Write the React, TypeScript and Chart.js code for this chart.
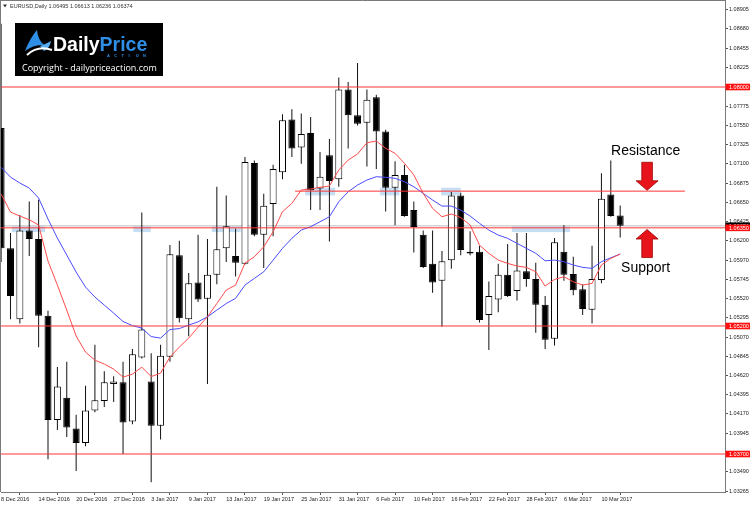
import React, { useEffect, useRef } from "react";
import { Chart, registerables } from "chart.js";

Chart.register(...registerables);

const TITLE = "EURUSD,Daily 1.06495 1.06613 1.06236 1.06374";

const OPEN = [
  1.0752, 1.0611, 1.0528, 1.0632, 1.0622, 1.0532, 1.041, 1.0436, 1.04, 1.0383,
  1.0421, 1.0432, 1.0452, 1.0454, 1.0408, 1.0483, 1.0455, 1.0403, 1.0484, 1.0603,
  1.0528, 1.0571, 1.0552, 1.058, 1.0611, 1.0602, 1.0593, 1.0711, 1.0627, 1.0663,
  1.07, 1.0762, 1.0729, 1.0746, 1.0681, 1.072, 1.0692, 1.0797, 1.0767, 1.0758,
  1.0788, 1.0748, 1.0682, 1.0697, 1.0656, 1.0627, 1.0593, 1.0573, 1.0597, 1.0673,
  1.0605, 1.0607, 1.0533, 1.0551, 1.058, 1.0561, 1.0584, 1.0575, 1.0545, 1.0505,
  1.0607, 1.0581, 1.0563, 1.0539, 1.0574, 1.0674, 1.06495,
];
const HIGH = [
  1.0874, 1.0629, 1.065, 1.0666, 1.0668, 1.0538, 1.0472, 1.0478, 1.0416, 1.045,
  1.0498, 1.0467, 1.0461, 1.0478, 1.0493, 1.0653, 1.0488, 1.0498, 1.0615, 1.062,
  1.0582, 1.0627, 1.0622, 1.0683, 1.0673, 1.0634, 1.0718, 1.0714, 1.0675, 1.0709,
  1.0768, 1.0774, 1.0769, 1.0765, 1.0724, 1.0739, 1.0811, 1.0806, 1.0828, 1.0797,
  1.0791, 1.075, 1.0713, 1.0709, 1.0666, 1.0632, 1.0632, 1.0608, 1.0677, 1.0676,
  1.0631, 1.0614, 1.0572, 1.0593, 1.0616, 1.0629, 1.0629, 1.0594, 1.0555, 1.0623,
  1.0638, 1.0601, 1.0569, 1.0614, 1.0699, 1.0714, 1.06613,
];
const LOW = [
  1.0595, 1.0528, 1.0523, 1.0602, 1.0495, 1.0364, 1.0398, 1.039, 1.035, 1.0379,
  1.0419, 1.0425, 1.0431, 1.037, 1.0405, 1.0482, 1.0337, 1.0387, 1.0478, 1.0524,
  1.0508, 1.0548, 1.0452, 1.0569, 1.0595, 1.0578, 1.0592, 1.0625, 1.0588, 1.0625,
  1.0692, 1.0718, 1.071, 1.0656, 1.0656, 1.0619, 1.0683, 1.0728, 1.0755, 1.0707,
  1.0704, 1.0654, 1.0638, 1.0648, 1.0606, 1.0588, 1.0559, 1.0519, 1.0587, 1.0603,
  1.0603, 1.0524, 1.0492, 1.0536, 1.0554, 1.055, 1.0566, 1.0512, 1.0493, 1.0497,
  1.0573, 1.0556, 1.0533, 1.0523, 1.057, 1.0648, 1.06236,
];
const CLOSE = [
  1.0611, 1.0555, 1.0632, 1.0622, 1.0532, 1.041, 1.0449, 1.0401, 1.0383, 1.0421,
  1.0433, 1.0454, 1.0455, 1.0407, 1.0487, 1.0516, 1.0403, 1.0485, 1.0604, 1.0529,
  1.057, 1.0551, 1.058, 1.061, 1.0637, 1.0594, 1.0712, 1.0627, 1.0661, 1.0704,
  1.0761, 1.0728, 1.0745, 1.0679, 1.0695, 1.069, 1.0797, 1.0767, 1.0757, 1.0785,
  1.0748, 1.0682, 1.0697, 1.0649, 1.0636, 1.0589, 1.0571, 1.0596, 1.0673, 1.0609,
  1.0607, 1.0527, 1.0555, 1.058, 1.0555, 1.0585, 1.0575, 1.0545, 1.0504, 1.0618,
  1.058, 1.0562, 1.054, 1.0575, 1.0669, 1.0649, 1.06374,
];

const MA_FAST = [
  1.06746, 1.06535, 1.06488, 1.06445, 1.06383, 1.05961, 1.05679, 1.05386, 1.05082, 1.04894,
  1.048, 1.04754, 1.04695, 1.04601, 1.04636, 1.04718, 1.04607, 1.04648, 1.04836, 1.04953,
  1.05058, 1.05187, 1.05308, 1.05463, 1.05621, 1.05679, 1.05937, 1.06011, 1.06128, 1.06304,
  1.06539, 1.06637, 1.06793, 1.06805, 1.06824, 1.0684, 1.07027, 1.07144, 1.07215, 1.07347,
  1.07367, 1.07282, 1.07223, 1.07106, 1.06969, 1.06754, 1.06578, 1.0648, 1.06512, 1.06471,
  1.06383, 1.06148, 1.06051, 1.05972, 1.05934, 1.05902, 1.05887, 1.05835, 1.05668, 1.05746,
  1.05777, 1.05718, 1.05679, 1.05699, 1.05914, 1.05992, 1.06043,
];
const MA_SLOW = [
  1.07059, 1.06945, 1.06875, 1.06816, 1.06699, 1.06453, 1.0623, 1.06031, 1.05832, 1.05656,
  1.05539, 1.05445, 1.05351, 1.05252, 1.05205, 1.05175, 1.05076, 1.05058, 1.05158, 1.0517,
  1.05211, 1.05249, 1.05308, 1.05386, 1.05463, 1.05524, 1.05679, 1.05758, 1.05835, 1.05972,
  1.0611, 1.06227, 1.06324, 1.06363, 1.06421, 1.0648, 1.06656, 1.06773, 1.06851, 1.0691,
  1.06949, 1.06942, 1.0693, 1.0689, 1.06832, 1.06754, 1.06676, 1.06605, 1.06605, 1.06558,
  1.06488, 1.06403, 1.06324, 1.06265, 1.06227, 1.06168, 1.0611, 1.06051, 1.05964, 1.05972,
  1.05953, 1.05914, 1.05887, 1.05875, 1.05953, 1.05999, 1.06043,
];

const LEVELS = [1.08, 1.0635, 1.052, 1.037];
const LEVEL_LABELS = ["1.08000", "1.06350", "1.05200", "1.03700"];
const RESISTANCE_LEVEL = 1.0678;
const RESISTANCE_FROM = 31.35;
const RESISTANCE_TO = 72.9;
const BID = 1.06374;
const BID_LABEL = "1.06374";

const Y_TICKS = [
  1.03265, 1.0349, 1.03945, 1.0417, 1.04395, 1.0462, 1.04845, 1.0507, 1.05295, 1.0552,
  1.05745, 1.0597, 1.062, 1.06425, 1.0665, 1.06875, 1.071, 1.07325, 1.0755, 1.07775,
  1.08, 1.08225, 1.08455, 1.0868, 1.08905,
];
const DATE_TICKS = [0, 4, 8, 12, 16, 20, 24, 28, 32, 36, 40, 44, 48, 52, 56, 60, 64];
const DATE_LABELS = [
  "8 Dec 2016", "14 Dec 2016", "20 Dec 2016", "27 Dec 2016", "3 Jan 2017", "9 Jan 2017",
  "13 Jan 2017", "19 Jan 2017", "25 Jan 2017", "31 Jan 2017", "6 Feb 2017", "10 Feb 2017",
  "16 Feb 2017", "22 Feb 2017", "28 Feb 2017", "6 Mar 2017", "10 Mar 2017",
];

const HL_FROM = [1.14, 14.1, 22.46, 32.41, 40.4, 46.91, 54.45];
const HL_TO = [4.69, 15.96, 25.55, 35.61, 42.46, 49.0, 60.66];
const HL_LOW = [1.063, 1.063, 1.063, 1.0673, 1.0673, 1.0673, 1.063];
const HL_HIGH = [1.06383, 1.06383, 1.06383, 1.0682, 1.0682, 1.0682, 1.06383];

const X_MIN = -0.0107;
const X_MAX = 77.175;
const Y_MIN = 1.03255;
const Y_MAX = 1.08996;

const ANNOT_RES_TEXT = { x: 65.03, y: 1.0725, text: "Resistance" };
const ANNOT_SUP_TEXT = { x: 66.1, y: 1.0588, text: "Support" };
const ARROW_DOWN = { x: 68.87, y: 1.0679 };
const ARROW_UP = { x: 68.87, y: 1.0633 };

const FONT = '"Liberation Sans", Arial, sans-serif';

function drawArrow(ctx: CanvasRenderingContext2D, cx: number, tipY: number, dir: number) {
  const len = 28, head = 9.5, hw = 11, sw = 5.3;
  ctx.save();
  ctx.beginPath();
  ctx.moveTo(cx - sw, tipY - dir * len);
  ctx.lineTo(cx + sw, tipY - dir * len);
  ctx.lineTo(cx + sw, tipY - dir * head);
  ctx.lineTo(cx + hw, tipY - dir * head);
  ctx.lineTo(cx, tipY);
  ctx.lineTo(cx - hw, tipY - dir * head);
  ctx.lineTo(cx - sw, tipY - dir * head);
  ctx.closePath();
  ctx.fillStyle = "#E8141B";
  ctx.fill();
  ctx.strokeStyle = "#A00000";
  ctx.lineWidth = 0.8;
  ctx.stroke();
  ctx.restore();
}

function drawLogo(ctx: CanvasRenderingContext2D) {
  ctx.save();
  ctx.fillStyle = "#000";
  ctx.fillRect(15, 23, 148, 53);
  // icon
  ctx.fillStyle = "#2F8FE6";
  ctx.beginPath();
  ctx.moveTo(25, 51);
  ctx.quadraticCurveTo(30, 38, 37, 30);
  ctx.quadraticCurveTo(38, 40, 44, 45);
  ctx.quadraticCurveTo(34, 44, 25, 51);
  ctx.closePath();
  ctx.fill();
  ctx.fillStyle = "#5AAEF0";
  ctx.beginPath();
  ctx.moveTo(40, 46);
  ctx.quadraticCurveTo(46, 44, 51, 41);
  ctx.quadraticCurveTo(50, 48, 44, 51);
  ctx.closePath();
  ctx.fill();
  ctx.strokeStyle = "#fff";
  ctx.lineWidth = 2;
  ctx.beginPath();
  ctx.moveTo(27, 55);
  ctx.quadraticCurveTo(38, 45, 52, 50);
  ctx.stroke();
  // wordmark
  ctx.textBaseline = "alphabetic";
  ctx.textAlign = "left";
  ctx.font = `bold 19.5px ${FONT}`;
  ctx.fillStyle = "#fff";
  ctx.fillText("Daily", 53, 51);
  const w = ctx.measureText("Daily").width;
  ctx.fillStyle = "#2F8FE6";
  ctx.fillText("Price", 53 + w, 51);
  ctx.font = `bold 4px ${FONT}`;
  const letters = "ACTION";
  for (let i = 0; i < letters.length; i++) {
    ctx.fillText(letters[i], 107 + i * 7.2, 56.5);
  }
  // copyright
  let size = 11;
  const txt = "Copyright - dailypriceaction.com";
  ctx.font = `${size}px "Open Sans", ${FONT}`;
  while (ctx.measureText(txt).width > 135 && size > 6) {
    size -= 0.25;
    ctx.font = `${size}px "Open Sans", ${FONT}`;
  }
  ctx.fillStyle = "#fff";
  ctx.textBaseline = "middle";
  ctx.fillText(txt, 22, 68.5);
  ctx.restore();
}

const decorPlugin = {
  id: "decor",
  beforeDatasetsDraw(chart: any) {
    const ctx = chart.ctx as CanvasRenderingContext2D;
    const xs = chart.scales.x, ys = chart.scales.y;
    ctx.save();
    ctx.fillStyle = "rgba(160, 200, 235, 0.6)";
    for (let i = 0; i < HL_FROM.length; i++) {
      const x0 = xs.getPixelForValue(HL_FROM[i]);
      const x1 = xs.getPixelForValue(HL_TO[i]);
      const y0 = ys.getPixelForValue(HL_HIGH[i]);
      const y1 = ys.getPixelForValue(HL_LOW[i]);
      ctx.fillRect(x0, y0, x1 - x0, y1 - y0);
    }
    ctx.restore();
  },
  afterDatasetsDraw(chart: any) {
    const ctx = chart.ctx as CanvasRenderingContext2D;
    const xs = chart.scales.x, ys = chart.scales.y;
    ctx.save();
    ctx.fillStyle = "#000";
    ctx.font = `14px ${FONT}`;
    ctx.textBaseline = "middle";
    ctx.textAlign = "left";
    ctx.fillText(ANNOT_RES_TEXT.text, xs.getPixelForValue(ANNOT_RES_TEXT.x), ys.getPixelForValue(ANNOT_RES_TEXT.y));
    ctx.fillText(ANNOT_SUP_TEXT.text, xs.getPixelForValue(ANNOT_SUP_TEXT.x), ys.getPixelForValue(ANNOT_SUP_TEXT.y));
    ctx.restore();
    drawArrow(ctx, xs.getPixelForValue(ARROW_DOWN.x), ys.getPixelForValue(ARROW_DOWN.y), 1);
    drawArrow(ctx, xs.getPixelForValue(ARROW_UP.x), ys.getPixelForValue(ARROW_UP.y), -1);
  },
  afterDraw(chart: any) {
    const ctx = chart.ctx as CanvasRenderingContext2D;
    const ys = chart.scales.y;
    const area = chart.chartArea;
    ctx.save();
    // frame
    ctx.strokeStyle = "#7a7a7a";
    ctx.lineWidth = 1;
    ctx.beginPath();
    ctx.moveTo(0.5, 0);
    ctx.lineTo(0.5, area.bottom);
    ctx.moveTo(0, 0.5);
    ctx.lineTo(area.right, 0.5);
    ctx.moveTo(area.right + 0.5, 0);
    ctx.lineTo(area.right + 0.5, area.top);
    ctx.stroke();
    // title
    ctx.fillStyle = "#333";
    ctx.beginPath();
    ctx.moveTo(3, 4.5);
    ctx.lineTo(7, 4.5);
    ctx.lineTo(5, 7.5);
    ctx.closePath();
    ctx.fill();
    ctx.font = `5.5px ${FONT}`;
    ctx.textBaseline = "middle";
    ctx.textAlign = "left";
    ctx.fillText(TITLE, 10, 6.3);
    drawLogo(ctx);
    // axis price boxes
    const box = (v: number, bg: string, label: string) => {
      const y = ys.getPixelForValue(v);
      ctx.fillStyle = bg;
      ctx.fillRect(area.right + 0.5, y - 3.3, 750 - area.right, 6.6);
      ctx.fillStyle = "#fff";
      ctx.font = `5.5px ${FONT}`;
      ctx.textBaseline = "middle";
      ctx.fillText(label, area.right + 4, y + 0.3);
    };
    box(BID, "#000", BID_LABEL);
    for (let i = 0; i < LEVELS.length; i++) box(LEVELS[i], "#FF1010", LEVEL_LABELS[i]);
    ctx.restore();
  },
};

export default function App() {
  const ref = useRef<HTMLCanvasElement | null>(null);
  useEffect(() => {
    const canvas = ref.current;
    if (!canvas) return;
    const idx = OPEN.map((_, i) => i);
    const wicks = idx.map((i) => ({ x: i, y: [LOW[i], HIGH[i]] }));
    const bodies = idx.map((i) => ({ x: i, y: [OPEN[i], CLOSE[i]] }));
    const bodyColors = idx.map((i) => (CLOSE[i] >= OPEN[i] ? "#ffffff" : "#000000"));
    const fast = idx.map((i) => ({ x: i, y: MA_FAST[i] }));
    const slow = idx.map((i) => ({ x: i, y: MA_SLOW[i] }));
    const levelSets = LEVELS.map((lv, k) => ({
      type: "line" as const,
      label: "level" + k,
      data: [
        { x: X_MIN, y: lv },
        { x: X_MAX, y: lv },
      ],
      borderColor: "#FF3535",
      borderWidth: 1,
      pointRadius: 0,
      order: 0,
    }));
    const chart = new Chart(canvas, {
      type: "bar",
      data: {
        datasets: [
          {
            type: "line",
            label: "bid",
            data: [
              { x: X_MIN, y: BID },
              { x: X_MAX, y: BID },
            ],
            borderColor: "#D4D4D4",
            borderWidth: 1.5,
            pointRadius: 0,
            order: 10,
          },
          {
            type: "bar",
            label: "wick",
            data: wicks as any,
            backgroundColor: "#111",
            borderWidth: 0,
            barThickness: 1,
            grouped: false,
            inflateAmount: 0,
            order: 5,
          } as any,
          {
            type: "bar",
            label: "body",
            data: bodies as any,
            backgroundColor: bodyColors,
            borderColor: "#000",
            borderWidth: 1,
            borderSkipped: false,
            barThickness: 7,
            minBarLength: 1,
            grouped: false,
            inflateAmount: 0,
            order: 4,
          } as any,
          {
            type: "line",
            label: "slow",
            data: slow,
            borderColor: "#4A4AFF",
            borderWidth: 1,
            pointRadius: 0,
            order: 2,
          },
          {
            type: "line",
            label: "fast",
            data: fast,
            borderColor: "#FF4A4A",
            borderWidth: 1,
            pointRadius: 0,
            order: 1,
          },
          {
            type: "line",
            label: "resistance",
            data: [
              { x: RESISTANCE_FROM, y: RESISTANCE_LEVEL },
              { x: RESISTANCE_TO, y: RESISTANCE_LEVEL },
            ],
            borderColor: "#FF3535",
            borderWidth: 1,
            pointRadius: 0,
            order: 0,
          },
          ...levelSets,
        ] as any,
      },
      options: {
        animation: false,
        responsive: false,
        devicePixelRatio: 1,
        events: [],
        layout: { padding: { left: 1, top: 2, right: 0, bottom: 0 } },
        plugins: { legend: { display: false }, tooltip: { enabled: false } },
        scales: {
          x: {
            type: "linear",
            position: "bottom",
            min: X_MIN,
            max: X_MAX,
            offset: false,
            grid: { display: true, drawOnChartArea: false, drawTicks: true, tickLength: 3, color: "#555" },
            border: { display: true, color: "#7a7a7a", width: 1 },
            afterBuildTicks: (scale: any) => {
              scale.ticks = DATE_TICKS.map((v) => ({ value: v }));
            },
            afterFit: (scale: any) => {
              scale.height = 14;
              scale.paddingLeft = 0;
              scale.paddingRight = 0;
            },
            ticks: {
              autoSkip: false,
              maxRotation: 0,
              minRotation: 0,
              align: "start",
              padding: 1,
              color: "#222",
              font: { family: FONT, size: 5.5 },
              callback: (v: any) => {
                const k = DATE_TICKS.indexOf(Number(v));
                return k >= 0 ? DATE_LABELS[k] : "";
              },
            },
          },
          y: {
            type: "linear",
            position: "right",
            min: Y_MIN,
            max: Y_MAX,
            grid: { display: true, drawOnChartArea: false, drawTicks: true, tickLength: 3, color: "#555" },
            border: { display: true, color: "#7a7a7a", width: 1 },
            afterBuildTicks: (scale: any) => {
              scale.ticks = Y_TICKS.map((v) => ({ value: v }));
            },
            afterFit: (scale: any) => {
              scale.width = 25;
              scale.paddingTop = 0;
              scale.paddingBottom = 0;
            },
            ticks: {
              padding: 1,
              color: "#222",
              font: { family: FONT, size: 5.5 },
              callback: (v: any) => Number(v).toFixed(5),
            },
          },
        },
      },
      plugins: [decorPlugin],
    } as any);
    return () => chart.destroy();
  }, []);
  return (
    <div style={{ position: "absolute", left: 0, top: 0, width: 750, height: 506, background: "#fff" }}>
      <canvas ref={ref} width={750} height={506} style={{ display: "block" }} />
    </div>
  );
}
